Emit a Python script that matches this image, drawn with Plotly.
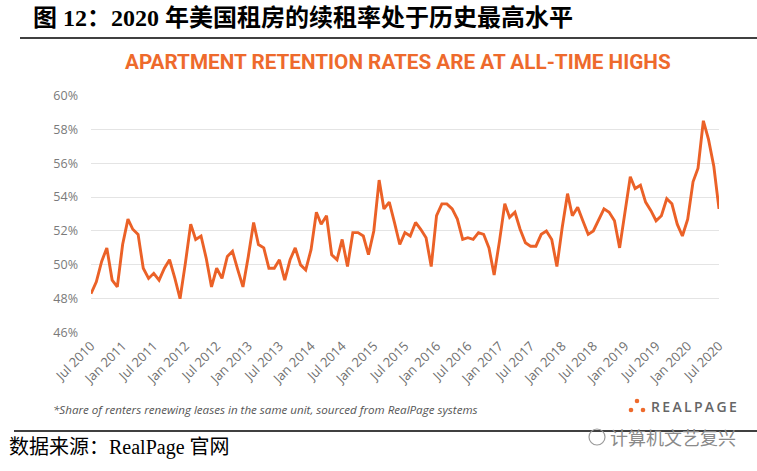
import plotly.graph_objects as go
import pandas as pd

# ---- data ----
months = pd.date_range("2010-07-01", "2020-07-01", freq="MS").strftime("%Y-%m-%d").tolist()
retention = [48.3, 49.0, 50.2, 51.0, 49.1, 48.7, 51.2, 52.7, 52.1, 51.8,
             49.8, 49.2, 49.5, 49.1, 49.8, 50.3, 49.2, 48.0, 50.1, 52.4,
             51.5, 51.7, 50.4, 48.7, 49.8, 49.2, 50.5, 50.8, 49.7, 48.7,
             50.5, 52.5, 51.2, 51.0, 49.8, 49.8, 50.3, 49.1, 50.3, 51.0,
             50.0, 49.7, 50.9, 53.1, 52.4, 52.9, 50.6, 50.3, 51.5, 49.9,
             51.9, 51.9, 51.7, 50.6, 52.0, 55.0, 53.3, 53.7, 52.5, 51.2,
             51.9, 51.7, 52.5, 52.1, 51.6, 49.9, 52.9, 53.6, 53.6, 53.3,
             52.7, 51.5, 51.6, 51.5, 51.9, 51.8, 51.0, 49.4, 51.4, 53.6,
             52.8, 53.1, 52.1, 51.3, 51.1, 51.1, 51.8, 52.0, 51.5, 49.9,
             52.2, 54.2, 52.9, 53.4, 52.6, 51.8, 52.0, 52.7, 53.3, 53.1,
             52.6, 51.0, 53.2, 55.2, 54.5, 54.7, 53.7, 53.2, 52.6, 52.9,
             53.9, 53.6, 52.4, 51.7, 52.7, 54.9, 55.7, 58.5, 57.4, 55.8, 53.3]
x_tick_dates = ["2010-07-01", "2011-01-01", "2011-07-01", "2012-01-01", "2012-07-01",
                "2013-01-01", "2013-07-01", "2014-01-01", "2014-07-01", "2015-01-01",
                "2015-07-01", "2016-01-01", "2016-07-01", "2017-01-01", "2017-07-01",
                "2018-01-01", "2018-07-01", "2019-01-01", "2019-07-01", "2020-01-01",
                "2020-07-01"]
x_tick_labels = ["Jul 2010", "Jan 2011", "Jul 2011", "Jan 2012", "Jul 2012",
                 "Jan 2013", "Jul 2013", "Jan 2014", "Jul 2014", "Jan 2015",
                 "Jul 2015", "Jan 2016", "Jul 2016", "Jan 2017", "Jul 2017",
                 "Jan 2018", "Jul 2018", "Jan 2019", "Jul 2019", "Jan 2020",
                 "Jul 2020"]
y_ticks = [46, 48, 50, 52, 54, 56, 58, 60]
y_tick_labels = ["46%", "48%", "50%", "52%", "54%", "56%", "58%", "60%"]

W, H = 757, 471
L, R, T, B = 91, 719, 95, 333


def px(x):
    return (x - L) / (R - L)


def py(y):
    return (B - y) / (B - T)


fig = go.Figure()
fig.add_trace(go.Scatter(x=months, y=retention, mode="lines",
                         line=dict(color="#EB6127", width=2.9),
                         hoverinfo="skip", showlegend=False))

annotations = [
    dict(text="<b>图 12：2020 年美国租房的续租率处于历史最高水平</b>",
         x=px(31), y=py(18), xanchor="left", yanchor="middle",
         font=dict(family="Liberation Serif, Noto Sans CJK SC", size=24, color="#000000")),
    dict(text="<b>APARTMENT RETENTION RATES ARE AT ALL-TIME HIGHS</b>",
         x=px(398), y=py(62), xanchor="center", yanchor="middle",
         font=dict(family="Roboto", size=20.7, color="#EE6A2C")),
    dict(text="<i>*Share of renters renewing leases in the same unit, sourced from RealPage systems</i>",
         x=px(51), y=py(409), xanchor="left", yanchor="middle",
         font=dict(family="Open Sans", size=11.6, color="#555555")),
    dict(text="R\u2009E\u2009A\u2009L\u2009P\u2009A\u2009G\u2009E",
         x=px(649), y=py(406), xanchor="left", yanchor="middle",
         font=dict(family="Open Sans", size=14, color="#666666", weight=600)),
    dict(text="数据来源：RealPage 官网",
         x=px(7), y=py(447), xanchor="left", yanchor="middle",
         font=dict(family="Liberation Serif, Noto Sans CJK SC", size=20, color="#000000")),
    dict(text="计算机文艺复兴",
         x=px(608), y=py(437), xanchor="left", yanchor="middle",
         font=dict(family="Noto Sans CJK SC", size=18, color="#8a8a8a")),
]
for a in annotations:
    a.update(xref="paper", yref="paper", showarrow=False)

shapes = [
    dict(type="line", xref="paper", yref="paper", x0=px(20), x1=px(757), y0=py(38), y1=py(38),
         line=dict(color="#000000", width=1.5)),
    dict(type="line", xref="paper", yref="paper", x0=px(14), x1=px(757), y0=py(431), y1=py(431),
         line=dict(color="#000000", width=1.5)),
    dict(type="circle", xref="paper", yref="paper", xsizemode="pixel", ysizemode="pixel",
         xanchor=px(597), yanchor=py(437), x0=-8, x1=8, y0=-8, y1=8,
         line=dict(color="#9a9a9a", width=1.2)),
]
for (cx, cy) in [(631, 410), (637, 401), (643, 410)]:
    shapes.append(dict(type="circle", xref="paper", yref="paper", xsizemode="pixel",
                       ysizemode="pixel", xanchor=px(cx), yanchor=py(cy),
                       x0=-2.3, x1=2.3, y0=-2.3, y1=2.3,
                       fillcolor="#EE6A2C", line=dict(width=0)))

fig.update_layout(
    width=W, height=H,
    margin=dict(l=L, r=W - R, t=T, b=H - B, autoexpand=False),
    paper_bgcolor="#ffffff", plot_bgcolor="#ffffff",
    annotations=annotations, shapes=shapes,
    xaxis=dict(type="date", range=["2010-07-01", "2020-07-01"],
               tickvals=x_tick_dates, ticktext=x_tick_labels, tickangle=-45,
               showgrid=False, zeroline=False, showline=False,
               tickfont=dict(family="Open Sans", size=13, color="#707070"),
               ticks="", ticklabelstandoff=2),
    yaxis=dict(range=[45.98, 60.02], tickvals=y_ticks, ticktext=y_tick_labels,
               showgrid=True, gridcolor="#e4e4e4", gridwidth=1, zeroline=False,
               showline=False, ticks="", ticklabelstandoff=12,
               tickfont=dict(family="Open Sans", size=12.5, color="#7a7a7a")),
)

fig.write_html("out.html", config={"displayModeBar": False},
               post_script="document.body.style.margin='0px';")
